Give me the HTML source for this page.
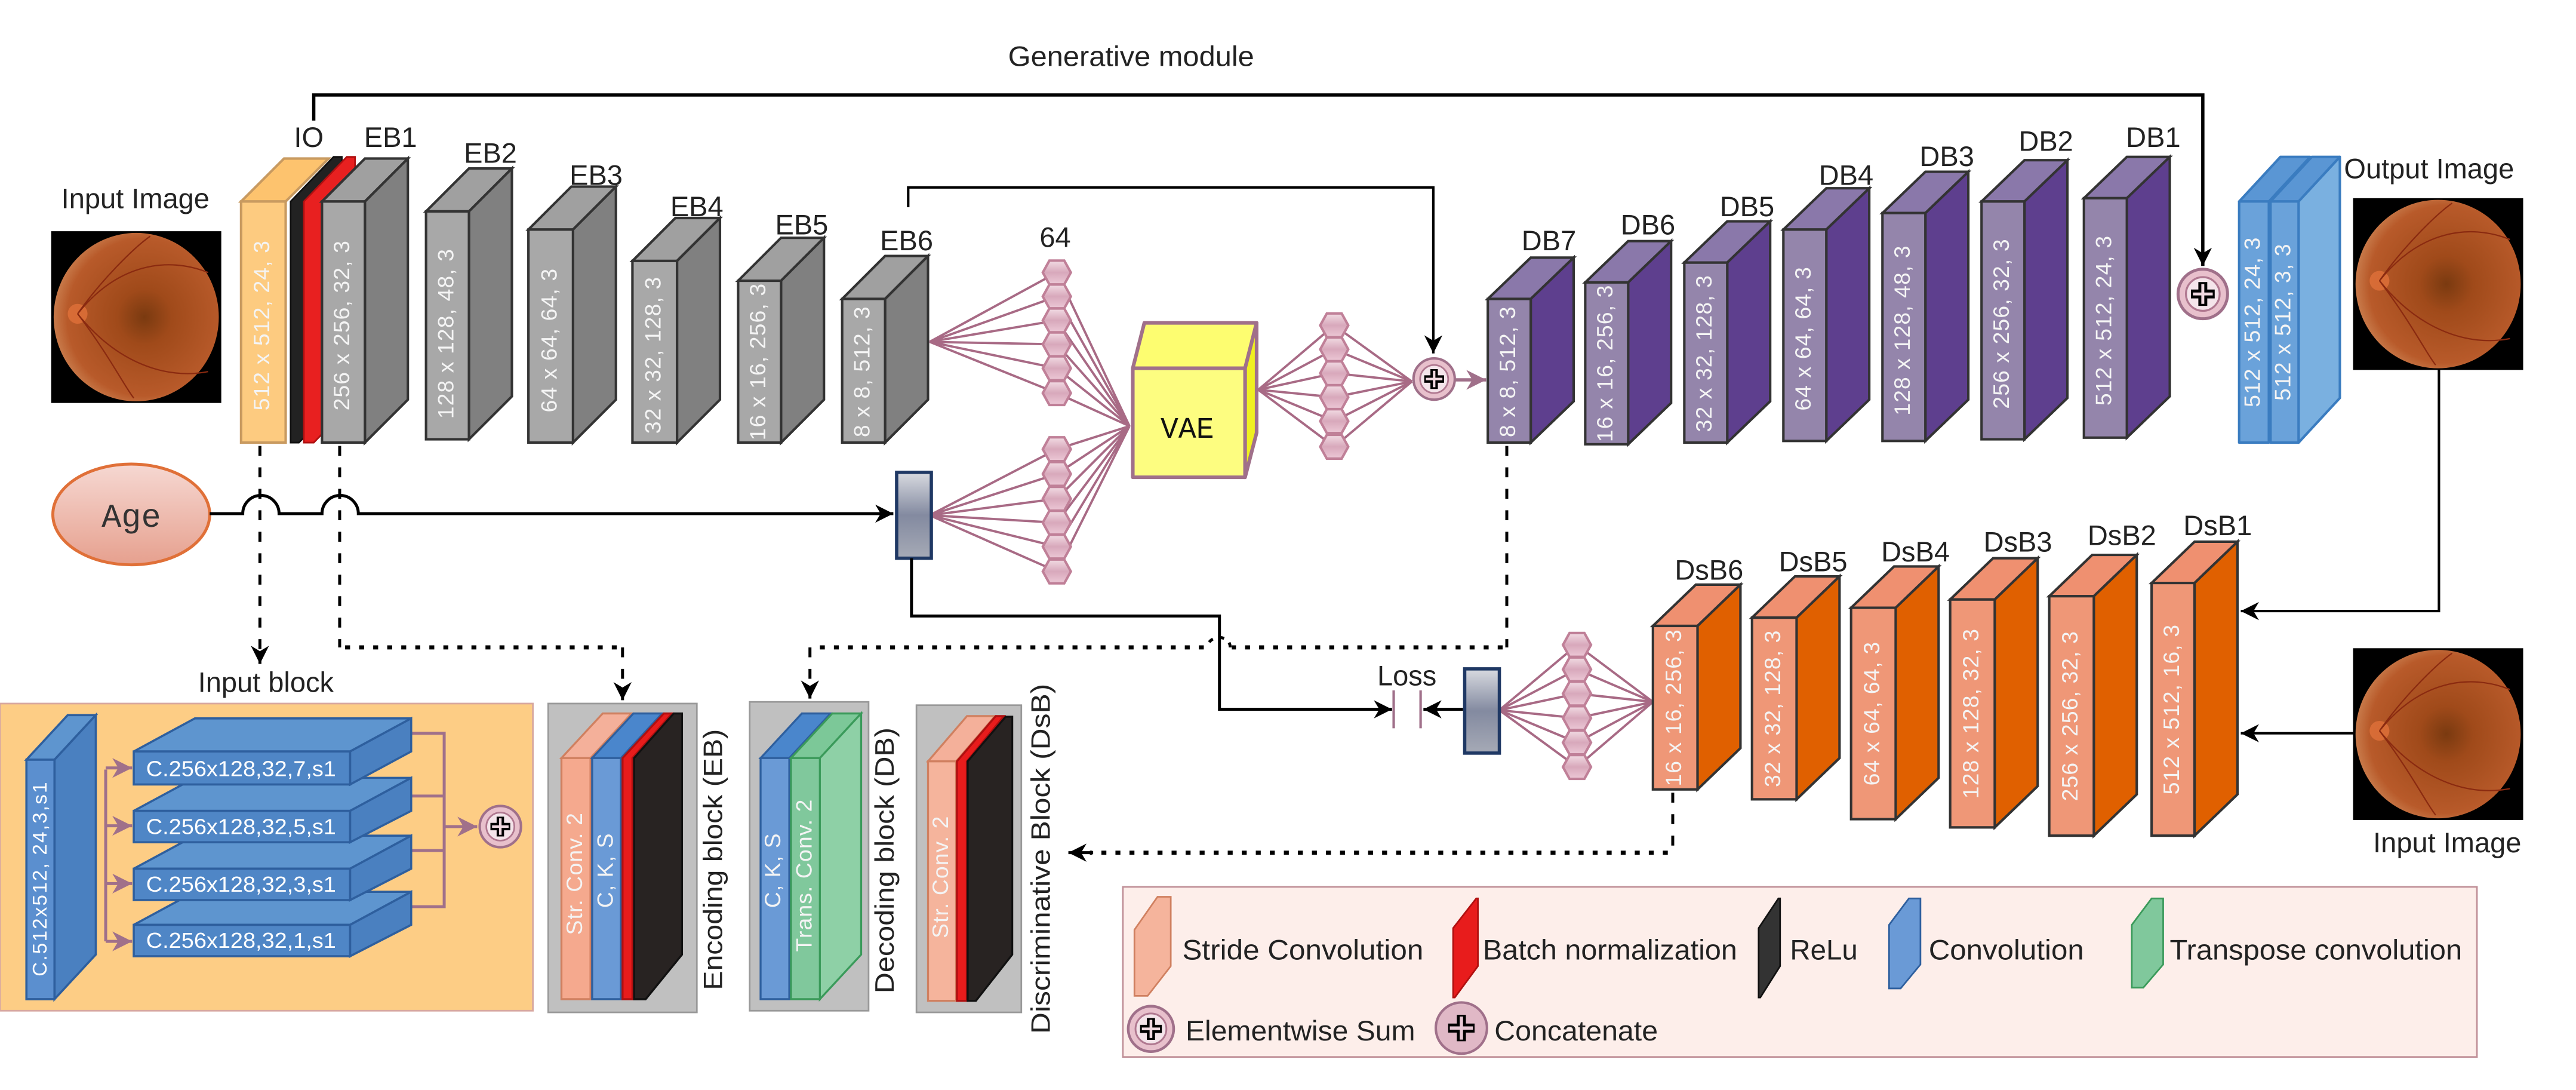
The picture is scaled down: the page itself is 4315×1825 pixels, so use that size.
<!DOCTYPE html>
<html><head><meta charset="utf-8"><style>
html,body{margin:0;padding:0;background:#fff;}
svg{display:block;}
.lb{font-family:"Liberation Sans Narrow","Liberation Sans",sans-serif;fill:#222;font-size:17px;}
.bt{font-family:"Liberation Sans",sans-serif;fill:#f4f4f4;font-size:13.5px;letter-spacing:0.4px;}
.rt{font-family:"Liberation Sans",sans-serif;fill:#222;font-size:16px;}
.mono{font-family:"Liberation Mono","DejaVu Sans Mono",monospace;}
</style></head><body>
<svg width="4315" height="1825" viewBox="0 0 1560 660" preserveAspectRatio="none" xmlns="http://www.w3.org/2000/svg">
<defs>
<marker id="ab" viewBox="0 0 10 10" refX="10" refY="5" markerWidth="11" markerHeight="11" markerUnits="userSpaceOnUse" orient="auto"><path d="M0,0 L10,5 L0,10 L3,5 z" fill="#000"/></marker>
<marker id="am" viewBox="0 0 10 10" refX="10" refY="5" markerWidth="12" markerHeight="12" markerUnits="userSpaceOnUse" orient="auto"><path d="M0,0 L10,5 L0,10 L3,5 z" fill="#a0708a"/></marker>
<linearGradient id="hg" x1="0" y1="0" x2="0" y2="1"><stop offset="0" stop-color="#f2dce4"/><stop offset="0.5" stop-color="#d8a8bb"/><stop offset="1" stop-color="#ecc8d6"/></linearGradient>
<linearGradient id="bx" x1="0" y1="0" x2="0" y2="1"><stop offset="0" stop-color="#d8dae0"/><stop offset="0.5" stop-color="#838aa0"/><stop offset="1" stop-color="#a6aab6"/></linearGradient>
<linearGradient id="ag" x1="0" y1="0" x2="0" y2="1"><stop offset="0" stop-color="#f6d8d2"/><stop offset="1" stop-color="#e6a08e"/></linearGradient>
<radialGradient id="fg" cx="0.55" cy="0.5" r="0.55"><stop offset="0" stop-color="#7a3a10"/><stop offset="0.3" stop-color="#a04a1a"/><stop offset="0.85" stop-color="#b85a2a"/><stop offset="1" stop-color="#c87a4a"/></radialGradient>
<g id="hx"><polygon points="-4.5,-7.2 4.5,-7.2 8.5,0 4.5,7.2 -4.5,7.2 -8.5,0" fill="url(#hg)" stroke="#c08098" stroke-width="1.5"/></g>
<g id="fund"><rect x="0" y="0" width="103" height="104" fill="#000"/><ellipse cx="51.5" cy="52" rx="50" ry="51" fill="url(#fg)"/><circle cx="16" cy="50" r="6" fill="#e0703a" opacity="0.8"/><path d="M16,50 C40,20 70,15 95,25 M16,50 C40,80 70,90 95,85 M16,50 C30,30 50,10 60,3 M16,50 C35,75 45,95 50,101" stroke="#8a2a10" stroke-width="0.8" fill="none"/></g>
<g id="sum"><circle r="12.5" fill="#e8c0cc" stroke="#a0708a" stroke-width="1.5"/><circle r="8.5" fill="#f4e4ea" stroke="#b07890" stroke-width="1"/><path d="M-6,0 H6 M0,-6 V6" stroke="#000" stroke-width="4.5"/><path d="M-5,0 H5 M0,-5 V5" stroke="#f0d8e0" stroke-width="1.5"/></g>
</defs>

<text class="lb" x="685" y="40" text-anchor="middle" textLength="149" lengthAdjust="spacingAndGlyphs">Generative module</text>
<text class="lb" x="82" y="126" text-anchor="middle">Input Image</text>
<use href="#fund" x="31" y="140"/>

<path d="M190,73 V57.5 H1334 V161" fill="none" stroke="#000" stroke-width="2" marker-end="url(#ab)"/>
<path d="M550,125.5 V113.5 H868 V214" fill="none" stroke="#000" stroke-width="1.5" marker-end="url(#ab)"/>

<polygon points="146,122 172,96 199,96 173,122" fill="#fdc36e" stroke="#c89a60" stroke-width="1.5"/>
<rect x="146" y="122" width="27" height="146" fill="#fdcb80" stroke="#c89a60" stroke-width="1.5"/>
<polygon points="176,122 202,95 207,95 207,242 181,268 176,268" fill="#222" stroke="#111" stroke-width="1"/>
<polygon points="184,122 210,95 215,95 215,242 190,268 184,268" fill="#e82020" stroke="#b01010" stroke-width="1"/>
<text class="bt" transform="translate(159.5,197) rotate(-90)" text-anchor="middle" dominant-baseline="middle">512 x 512, 24, 3</text>
<text class="lb" x="187" y="89" text-anchor="middle">IO</text>

<g stroke="#333" stroke-width="1.5">
<polygon points="195,122 221,96 247,96 221,122" fill="#a0a0a0"/><polygon points="221,122 247,96 247,242 221,268" fill="#808080"/><rect x="195" y="122" width="26" height="146" fill="#a8a8a8"/>
<polygon points="258,128 284,102 310,102 284,128" fill="#a0a0a0"/><polygon points="284,128 310,102 310,240 284,266" fill="#808080"/><rect x="258" y="128" width="26" height="138" fill="#a8a8a8"/>
<polygon points="320,139 346,113 373,113 347,139" fill="#a0a0a0"/><polygon points="347,139 373,113 373,242 347,268" fill="#808080"/><rect x="320" y="139" width="27" height="129" fill="#a8a8a8"/>
<polygon points="383,158 409,132 436,132 410,158" fill="#a0a0a0"/><polygon points="410,158 436,132 436,242 410,268" fill="#808080"/><rect x="383" y="158" width="27" height="110" fill="#a8a8a8"/>
<polygon points="447,170 473,144 499,144 473,170" fill="#a0a0a0"/><polygon points="473,170 499,144 499,242 473,268" fill="#808080"/><rect x="447" y="170" width="26" height="98" fill="#a8a8a8"/>
<polygon points="510,181 536,155 562,155 536,181" fill="#a0a0a0"/><polygon points="536,181 562,155 562,242 536,268" fill="#808080"/><rect x="510" y="181" width="26" height="87" fill="#a8a8a8"/>
</g>
<text class="bt" transform="translate(208,197) rotate(-90)" text-anchor="middle" dominant-baseline="middle">256 x 256, 32, 3</text>
<text class="bt" transform="translate(271,202) rotate(-90)" text-anchor="middle" dominant-baseline="middle">128 x 128, 48, 3</text>
<text class="bt" transform="translate(333.5,206) rotate(-90)" text-anchor="middle" dominant-baseline="middle">64 x 64, 64, 3</text>
<text class="bt" transform="translate(396.5,215) rotate(-90)" text-anchor="middle" dominant-baseline="middle">32 x 32, 128, 3</text>
<text class="bt" transform="translate(460,219) rotate(-90)" text-anchor="middle" dominant-baseline="middle">16 x 16, 256, 3</text>
<text class="bt" transform="translate(523,225) rotate(-90)" text-anchor="middle" dominant-baseline="middle">8 x 8, 512, 3</text>
<text class="lb" x="236.5" y="89" text-anchor="middle">EB1</text>
<text class="lb" x="297" y="98.5" text-anchor="middle">EB2</text>
<text class="lb" x="361" y="112" text-anchor="middle">EB3</text>
<text class="lb" x="422" y="131" text-anchor="middle">EB4</text>
<text class="lb" x="485.5" y="142" text-anchor="middle">EB5</text>
<text class="lb" x="549" y="151.5" text-anchor="middle">EB6</text>
<text class="lb" x="639" y="149.5" text-anchor="middle">64</text>

<g stroke="#a86a85" stroke-width="1.4" fill="none">
<path d="M563,207 L640,165 L684,258 M563,207 L640,179.5 L684,258 M563,207 L640,194 L684,258 M563,207 L640,208.5 L684,258 M563,207 L640,223 L684,258 M563,207 L640,238 L684,258"/>
<path d="M563,312 L640,272 L684,258 M563,312 L640,287 L684,258 M563,312 L640,302 L684,258 M563,312 L640,316.5 L684,258 M563,312 L640,331 L684,258 M563,312 L640,346 L684,258"/>
<path d="M762,236 L808,197 L855,231 M762,236 L808,211.5 L855,231 M762,236 L808,226 L855,231 M762,236 L808,240.5 L855,231 M762,236 L808,255 L855,231 M762,236 L808,270.5 L855,231"/>
<path d="M908,430 L955,390.5 L1001,425 M908,430 L955,405.3 L1001,425 M908,430 L955,420 L1001,425 M908,430 L955,434.8 L1001,425 M908,430 L955,449.6 L1001,425 M908,430 L955,464.4 L1001,425"/>
</g>
<use href="#hx" x="640" y="165"/><use href="#hx" x="640" y="179.5"/><use href="#hx" x="640" y="194"/><use href="#hx" x="640" y="208.5"/><use href="#hx" x="640" y="223"/><use href="#hx" x="640" y="238"/>
<use href="#hx" x="640" y="272"/><use href="#hx" x="640" y="287"/><use href="#hx" x="640" y="302"/><use href="#hx" x="640" y="316.5"/><use href="#hx" x="640" y="331"/><use href="#hx" x="640" y="346"/>
<use href="#hx" x="808" y="197"/><use href="#hx" x="808" y="211.5"/><use href="#hx" x="808" y="226"/><use href="#hx" x="808" y="240.5"/><use href="#hx" x="808" y="255"/><use href="#hx" x="808" y="270.5"/>
<use href="#hx" x="955" y="390.5"/><use href="#hx" x="955" y="405.3"/><use href="#hx" x="955" y="420"/><use href="#hx" x="955" y="434.8"/><use href="#hx" x="955" y="449.6"/><use href="#hx" x="955" y="464.4"/>

<g stroke="#a0708a" stroke-width="2.2" stroke-linejoin="round">
<polygon points="686,223 693,195.5 761,195.5 754,223" fill="#fdfd70"/>
<polygon points="754,223 761,195.5 761,262 754,289" fill="#f0f020"/>
<rect x="686" y="223" width="68" height="66" fill="#fdfd80"/>
</g>
<text class="mono" x="719" y="265" text-anchor="middle" font-size="18" fill="#111">VAE</text>

<use href="#sum" x="868.5" y="229.5"/>
<line x1="881" y1="230" x2="900" y2="230" stroke="#a0708a" stroke-width="2" marker-end="url(#am)"/>

<g stroke="#333" stroke-width="1.5">
<polygon points="901,181 927,156 953,156 927,181" fill="#8a78aa"/><polygon points="927,181 953,156 953,243 927,268" fill="#5e3f8e"/><rect x="901" y="181" width="26" height="87" fill="#9485ab"/>
<polygon points="960,171 986,146 1012,146 986,171" fill="#8a78aa"/><polygon points="986,171 1012,146 1012,244 986,269" fill="#5e3f8e"/><rect x="960" y="171" width="26" height="98" fill="#9485ab"/>
<polygon points="1020,159 1046,134 1072,134 1046,159" fill="#8a78aa"/><polygon points="1046,159 1072,134 1072,243 1046,268" fill="#5e3f8e"/><rect x="1020" y="159" width="26" height="109" fill="#9485ab"/>
<polygon points="1080,139 1106,114 1132,114 1106,139" fill="#8a78aa"/><polygon points="1106,139 1132,114 1132,242 1106,267" fill="#5e3f8e"/><rect x="1080" y="139" width="26" height="128" fill="#9485ab"/>
<polygon points="1140,129 1166,104 1192,104 1166,129" fill="#8a78aa"/><polygon points="1166,129 1192,104 1192,242 1166,267" fill="#5e3f8e"/><rect x="1140" y="129" width="26" height="138" fill="#9485ab"/>
<polygon points="1200,122 1226,97 1252,97 1226,122" fill="#8a78aa"/><polygon points="1226,122 1252,97 1252,241 1226,266" fill="#5e3f8e"/><rect x="1200" y="122" width="26" height="144" fill="#9485ab"/>
<polygon points="1262,120 1288,95 1314,95 1288,120" fill="#8a78aa"/><polygon points="1288,120 1314,95 1314,240 1288,265" fill="#5e3f8e"/><rect x="1262" y="120" width="26" height="145" fill="#9485ab"/>
</g>
<text class="bt" transform="translate(914,225) rotate(-90)" text-anchor="middle" dominant-baseline="middle">8 x 8, 512, 3</text>
<text class="bt" transform="translate(973,220) rotate(-90)" text-anchor="middle" dominant-baseline="middle">16 x 16, 256, 3</text>
<text class="bt" transform="translate(1033,214) rotate(-90)" text-anchor="middle" dominant-baseline="middle">32 x 32, 128, 3</text>
<text class="bt" transform="translate(1093,205) rotate(-90)" text-anchor="middle" dominant-baseline="middle">64 x 64, 64, 3</text>
<text class="bt" transform="translate(1153,200) rotate(-90)" text-anchor="middle" dominant-baseline="middle">128 x 128, 48, 3</text>
<text class="bt" transform="translate(1213,196) rotate(-90)" text-anchor="middle" dominant-baseline="middle">256 x 256, 32, 3</text>
<text class="bt" transform="translate(1275,194) rotate(-90)" text-anchor="middle" dominant-baseline="middle">512 x 512, 24, 3</text>
<text class="lb" x="938" y="151.5" text-anchor="middle">DB7</text>
<text class="lb" x="998" y="142" text-anchor="middle">DB6</text>
<text class="lb" x="1058" y="131" text-anchor="middle">DB5</text>
<text class="lb" x="1118" y="112" text-anchor="middle">DB4</text>
<text class="lb" x="1179" y="100.6" text-anchor="middle">DB3</text>
<text class="lb" x="1239" y="91.3" text-anchor="middle">DB2</text>
<text class="lb" x="1304" y="89" text-anchor="middle">DB1</text>

<g transform="translate(1334,178) scale(1.2)"><use href="#sum"/></g>

<g stroke="#3a7cc0" stroke-width="1.5" stroke-linejoin="round">
<polygon points="1375,122 1400,95 1417,95 1392,122" fill="#5a96d4"/>
<polygon points="1392,122 1417,95 1417,241 1392,268" fill="#7ab0e0"/>
<rect x="1375" y="122" width="17" height="146" fill="#6aa2da"/>
<polygon points="1356,122 1381,95 1399,95 1374,122" fill="#5a96d4"/>
<rect x="1356" y="122" width="18" height="146" fill="#6aa2da"/>
</g>
<text class="bt" transform="translate(1365,195) rotate(-90)" text-anchor="middle" dominant-baseline="middle">512 x 512, 24, 3</text>
<text class="bt" transform="translate(1383.5,195) rotate(-90)" text-anchor="middle" dominant-baseline="middle">512 x 512, 3, 3</text>
<text class="lb" x="1471" y="108" text-anchor="middle">Output Image</text>
<use href="#fund" x="1425" y="120"/>
<path d="M1477,224 V370 H1357" fill="none" stroke="#000" stroke-width="1.5" marker-end="url(#ab)"/>
<path d="M1425,444 H1357" fill="none" stroke="#000" stroke-width="1.5" marker-end="url(#ab)"/>
<use href="#fund" x="1425" y="392.5"/>
<text class="lb" x="1482" y="516" text-anchor="middle">Input Image</text>

<ellipse cx="79.5" cy="311.5" rx="47.5" ry="30.5" fill="url(#ag)" stroke="#e07038" stroke-width="1.8"/>
<text class="mono" x="79.5" y="319" text-anchor="middle" font-size="20" fill="#333">Age</text>
<path d="M127,311 H147 a11,11 0 0 1 22,0 H195 a11,11 0 0 1 22,0 H541" fill="none" stroke="#000" stroke-width="1.8" marker-end="url(#ab)"/>
<rect x="543" y="286" width="21" height="52" fill="url(#bx)" stroke="#1f3864" stroke-width="2"/>
<path d="M552,338 V373 H738.5 V429.5 H843" fill="none" stroke="#000" stroke-width="1.8" marker-end="url(#ab)"/>

<text class="lb" x="852" y="415" text-anchor="middle">Loss</text>
<line x1="844" y1="418" x2="844" y2="441" stroke="#a0708a" stroke-width="1.5"/>
<line x1="860.3" y1="418" x2="860.3" y2="441" stroke="#a0708a" stroke-width="1.5"/>
<line x1="886" y1="429.5" x2="862" y2="429.5" stroke="#000" stroke-width="1.8" marker-end="url(#ab)"/>
<rect x="887" y="405" width="21" height="51" fill="url(#bx)" stroke="#1f3864" stroke-width="2"/>

<g stroke="#333" stroke-width="1.5">
<polygon points="1001,379 1027,354 1054,354 1028,379" fill="#ef9070"/><polygon points="1028,379 1054,354 1054,453 1028,478" fill="#e06000"/><rect x="1001" y="379" width="27" height="99" fill="#ef9777"/>
<polygon points="1061,374 1087,349 1114,349 1088,374" fill="#ef9070"/><polygon points="1088,374 1114,349 1114,459 1088,484" fill="#e06000"/><rect x="1061" y="374" width="27" height="110" fill="#ef9777"/>
<polygon points="1121,368 1147,343 1174,343 1148,368" fill="#ef9070"/><polygon points="1148,368 1174,343 1174,471 1148,496" fill="#e06000"/><rect x="1121" y="368" width="27" height="128" fill="#ef9777"/>
<polygon points="1181,363 1207,338 1234,338 1208,363" fill="#ef9070"/><polygon points="1208,363 1234,338 1234,476 1208,501" fill="#e06000"/><rect x="1181" y="363" width="27" height="138" fill="#ef9777"/>
<polygon points="1241,361 1267,336 1294,336 1268,361" fill="#ef9070"/><polygon points="1268,361 1294,336 1294,481 1268,506" fill="#e06000"/><rect x="1241" y="361" width="27" height="145" fill="#ef9777"/>
<polygon points="1303,353 1329,328 1355,328 1329,353" fill="#ef9070"/><polygon points="1329,353 1355,328 1355,481 1329,506" fill="#e06000"/><rect x="1303" y="353" width="26" height="153" fill="#ef9777"/>
</g>
<text class="bt" transform="translate(1014.5,428.5) rotate(-90)" text-anchor="middle" dominant-baseline="middle">16 x 16, 256, 3</text>
<text class="bt" transform="translate(1074.5,429) rotate(-90)" text-anchor="middle" dominant-baseline="middle">32 x 32, 128, 3</text>
<text class="bt" transform="translate(1134.5,432) rotate(-90)" text-anchor="middle" dominant-baseline="middle">64 x 64, 64, 3</text>
<text class="bt" transform="translate(1194.5,432) rotate(-90)" text-anchor="middle" dominant-baseline="middle">128 x 128, 32, 3</text>
<text class="bt" transform="translate(1254.5,433.5) rotate(-90)" text-anchor="middle" dominant-baseline="middle">256 x 256, 32, 3</text>
<text class="bt" transform="translate(1316,429.5) rotate(-90)" text-anchor="middle" dominant-baseline="middle">512 x 512, 16, 3</text>
<text class="lb" x="1035" y="351" text-anchor="middle">DsB6</text>
<text class="lb" x="1098" y="346" text-anchor="middle">DsB5</text>
<text class="lb" x="1160" y="340" text-anchor="middle">DsB4</text>
<text class="lb" x="1222" y="334" text-anchor="middle">DsB3</text>
<text class="lb" x="1285" y="330" text-anchor="middle">DsB2</text>
<text class="lb" x="1343" y="324" text-anchor="middle">DsB1</text>

<g fill="none" stroke="#000" stroke-width="1.8">
<path d="M157.4,270 V402" stroke-dasharray="6,7" marker-end="url(#ab)"/>
<path d="M205.7,270 V392" stroke-dasharray="6,7"/>
<path d="M209,392 H377" stroke-dasharray="3,5.5" stroke-width="2.5"/>
<path d="M377,392 V424" stroke-dasharray="6,7" marker-end="url(#ab)"/>
<path d="M912.5,270 V392" stroke-dasharray="6,7"/>
<path d="M910,392 H746" stroke-dasharray="3,5.5" stroke-width="2.5"/>
<path d="M745,392 C745,384 732,384 731,392" stroke-dasharray="3,4"/>
<path d="M729,392 H492" stroke-dasharray="3,5.5" stroke-width="2.5"/>
<path d="M490.5,392 V423" stroke-dasharray="6,7" marker-end="url(#ab)"/>
<path d="M1013,480 V516" stroke-dasharray="6,7"/>
<path d="M1010,516.3 H660" stroke-dasharray="3,5.5" stroke-width="2.5"/>
<path d="M662,516.3 H647" marker-end="url(#ab)"/>
</g>

<text class="lb" x="161" y="419" text-anchor="middle" font-size="16">Input block</text>
<rect x="0" y="426" width="322.7" height="186" fill="#fdcd85" stroke="#d8a8a0" stroke-width="1"/>
<g stroke="#2e5f9e" stroke-width="1.3">
<polygon points="16,460 41,433 58,433 33,460" fill="#5e95cf"/><polygon points="33,460 58,433 58,578 33,605" fill="#4a80c0"/><rect x="16" y="460" width="17" height="145" fill="#5b8fcf"/>
</g>
<text transform="translate(25,532) rotate(-90)" text-anchor="middle" dominant-baseline="middle" font-family="Liberation Sans, sans-serif" font-size="12" fill="#fff" letter-spacing="0.8">C.512x512, 24,3,s1</text>
<g fill="none" stroke="#a0708a" stroke-width="1.8">
<path d="M249,444 H269 V549 H249 M249,482 H269 M249,515 H269"/>
<path d="M269,500.5 H289" marker-end="url(#am)"/>
<path d="M64,466 V570"/>
<path d="M64,465 H80" marker-end="url(#am)"/>
<path d="M64,500 H80" marker-end="url(#am)"/>
<path d="M64,535 H80" marker-end="url(#am)"/>
<path d="M64,570 H80" marker-end="url(#am)"/>
</g>
<g stroke="#2e5f9e" stroke-width="1.3">
<polygon points="81,560 118,540 249,540 212,560" fill="#5e95cf"/><polygon points="212,560 249,540 249,560 212,579" fill="#4a80c0"/><rect x="81" y="560" width="131" height="19" fill="#4f86c6"/>
<polygon points="81,526 118,506 249,506 212,526" fill="#5e95cf"/><polygon points="212,526 249,506 249,526 212,545" fill="#4a80c0"/><rect x="81" y="526" width="131" height="19" fill="#4f86c6"/>
<polygon points="81,491 118,471 249,471 212,491" fill="#5e95cf"/><polygon points="212,491 249,471 249,491 212,510" fill="#4a80c0"/><rect x="81" y="491" width="131" height="19" fill="#4f86c6"/>
<polygon points="81,455 118,435 249,435 212,455" fill="#5e95cf"/><polygon points="212,455 249,435 249,455 212,475" fill="#4a80c0"/><rect x="81" y="455" width="131" height="20" fill="#4f86c6"/>
</g>
<g font-family="Liberation Sans Narrow, Liberation Sans, sans-serif" font-size="13" fill="#fff" text-anchor="middle">
<text x="146" y="470" textLength="115" lengthAdjust="spacingAndGlyphs">C.256x128,32,7,s1</text>
<text x="146" y="505" textLength="115" lengthAdjust="spacingAndGlyphs">C.256x128,32,5,s1</text>
<text x="146" y="540" textLength="115" lengthAdjust="spacingAndGlyphs">C.256x128,32,3,s1</text>
<text x="146" y="574" textLength="115" lengthAdjust="spacingAndGlyphs">C.256x128,32,1,s1</text>
</g>
<use href="#sum" x="303" y="500.5"/>

<!-- Encoding block -->
<rect x="332" y="426" width="90" height="187" fill="#c0c0c0" stroke="#999" stroke-width="1"/>
<g stroke-width="1.2">
<polygon points="340,459 365,432 382.5,432 357.6,459" fill="#f4b09a" stroke="#d08060"/>
<rect x="340" y="459" width="17.6" height="146" fill="#f5a98e" stroke="#d08060"/>
<polygon points="384,462 409,433 413,433 413,578 391,605 384,605" fill="#282322" stroke="#111"/>
<polygon points="358.6,459 383.6,432 401,432 376,459" fill="#4a86cc" stroke="#2e5f9e"/>
<rect x="358.6" y="459" width="17.4" height="146" fill="#6a9ad6" stroke="#2e5f9e"/>
<polygon points="377,459 402,432 407,432 383,459 383,605 377,605" fill="#e81c1c" stroke="#b01010"/>
<polygon points="384,459 408,432 413,432 413,578 391,605 384,605" fill="#282322" stroke="#111"/>
</g>
<text class="bt" transform="translate(349,529) rotate(-90)" text-anchor="middle" dominant-baseline="middle">Str. Conv. 2</text>
<text class="bt" transform="translate(367.5,527) rotate(-90)" text-anchor="middle" dominant-baseline="middle">C, K, S</text>
<text class="rt" transform="translate(433,520.5) rotate(-90)" text-anchor="middle" dominant-baseline="middle" textLength="158" lengthAdjust="spacingAndGlyphs">Encoding block (EB)</text>

<!-- Decoding block -->
<rect x="454" y="425" width="72" height="187" fill="#c0c0c0" stroke="#999" stroke-width="1"/>
<g stroke-width="1.2">
<polygon points="460.6,459 485.6,432 503,432 478,459" fill="#4a86cc" stroke="#2e5f9e"/>
<rect x="460.6" y="459" width="17.4" height="146" fill="#6a9ad6" stroke="#2e5f9e"/>
<polygon points="479,459 504,432 521.5,432 496.5,459" fill="#7cc898" stroke="#3a9a5a"/>
<polygon points="496.5,459 521.5,432 521.5,578 496.5,605" fill="#8ed0a6" stroke="#3a9a5a"/>
<rect x="479" y="459" width="17.5" height="146" fill="#80c89c" stroke="#3a9a5a"/>
</g>
<text class="bt" transform="translate(469,527) rotate(-90)" text-anchor="middle" dominant-baseline="middle">C, K, S</text>
<text class="bt" transform="translate(488,530) rotate(-90)" text-anchor="middle" dominant-baseline="middle">Trans. Conv. 2</text>
<text class="rt" transform="translate(537,521) rotate(-90)" text-anchor="middle" dominant-baseline="middle" textLength="161" lengthAdjust="spacingAndGlyphs">Decoding block (DB)</text>

<!-- Discriminative block -->
<rect x="555" y="427" width="63.5" height="186" fill="#c0c0c0" stroke="#999" stroke-width="1"/>
<g stroke-width="1.2">
<polygon points="562,461 585.6,433.6 602.6,433.6 579,461" fill="#f4b09a" stroke="#d08060"/>
<rect x="562" y="461" width="17" height="145" fill="#f5b49c" stroke="#d08060"/>
<polygon points="579.5,461 603,433.6 608,433.6 585.5,461 585.5,606 579.5,606" fill="#e81c1c" stroke="#b01010"/>
<polygon points="586,461 609,434 613,434 613,578 591,606 586,606" fill="#282322" stroke="#111"/>
</g>
<text class="bt" transform="translate(570.5,531) rotate(-90)" text-anchor="middle" dominant-baseline="middle">Str. Conv. 2</text>
<text class="rt" transform="translate(631.5,520) rotate(-90)" text-anchor="middle" dominant-baseline="middle" textLength="212" lengthAdjust="spacingAndGlyphs">Discriminative Block (DsB)</text>

<!-- Legend -->
<rect x="680" y="537" width="820" height="103" fill="#fdeeea" stroke="#c09098" stroke-width="1"/>
<polygon points="687,563 701,543 709,543 709,585 695,603 687,603" fill="#f5b49c" stroke="#d08060" stroke-width="1"/>
<polygon points="880,562 894,544 895,544 895,585 881,604 880,604" fill="#e81c1c" stroke="#b01010" stroke-width="1"/>
<polygon points="1065,562 1077,544 1078,544 1078,585 1066,604 1065,604" fill="#333" stroke="#111" stroke-width="1"/>
<polygon points="1144,560 1156,544 1163,544 1163,584 1151,598.5 1144,598.5" fill="#6a9ad6" stroke="#2e5f9e" stroke-width="1"/>
<polygon points="1291,560 1303,544 1310,544 1310,584 1298,598 1291,598" fill="#80c89c" stroke="#3a9a5a" stroke-width="1"/>
<g class="lb">
<text x="716" y="581" textLength="146" lengthAdjust="spacingAndGlyphs">Stride Convolution</text>
<text x="898" y="581" textLength="154" lengthAdjust="spacingAndGlyphs">Batch normalization</text>
<text x="1084" y="581" textLength="41" lengthAdjust="spacingAndGlyphs">ReLu</text>
<text x="1168" y="581" textLength="94" lengthAdjust="spacingAndGlyphs">Convolution</text>
<text x="1314" y="581" textLength="177" lengthAdjust="spacingAndGlyphs">Transpose convolution</text>
<text x="718" y="630" textLength="139" lengthAdjust="spacingAndGlyphs">Elementwise Sum</text>
<text x="905" y="630" textLength="99" lengthAdjust="spacingAndGlyphs">Concatenate</text>
</g>
<g transform="translate(697,623) scale(1.1)"><use href="#sum"/></g>
<g transform="translate(885,622.5)"><circle r="15.5" fill="#e0b8c6" stroke="#a0708a" stroke-width="1.5"/><path d="M-8,0 H8 M0,-8 V8" stroke="#000" stroke-width="5.5"/><path d="M-7,0 H7 M0,-7 V7" stroke="#e8c8d4" stroke-width="2"/></g>
</svg>
</body></html>
